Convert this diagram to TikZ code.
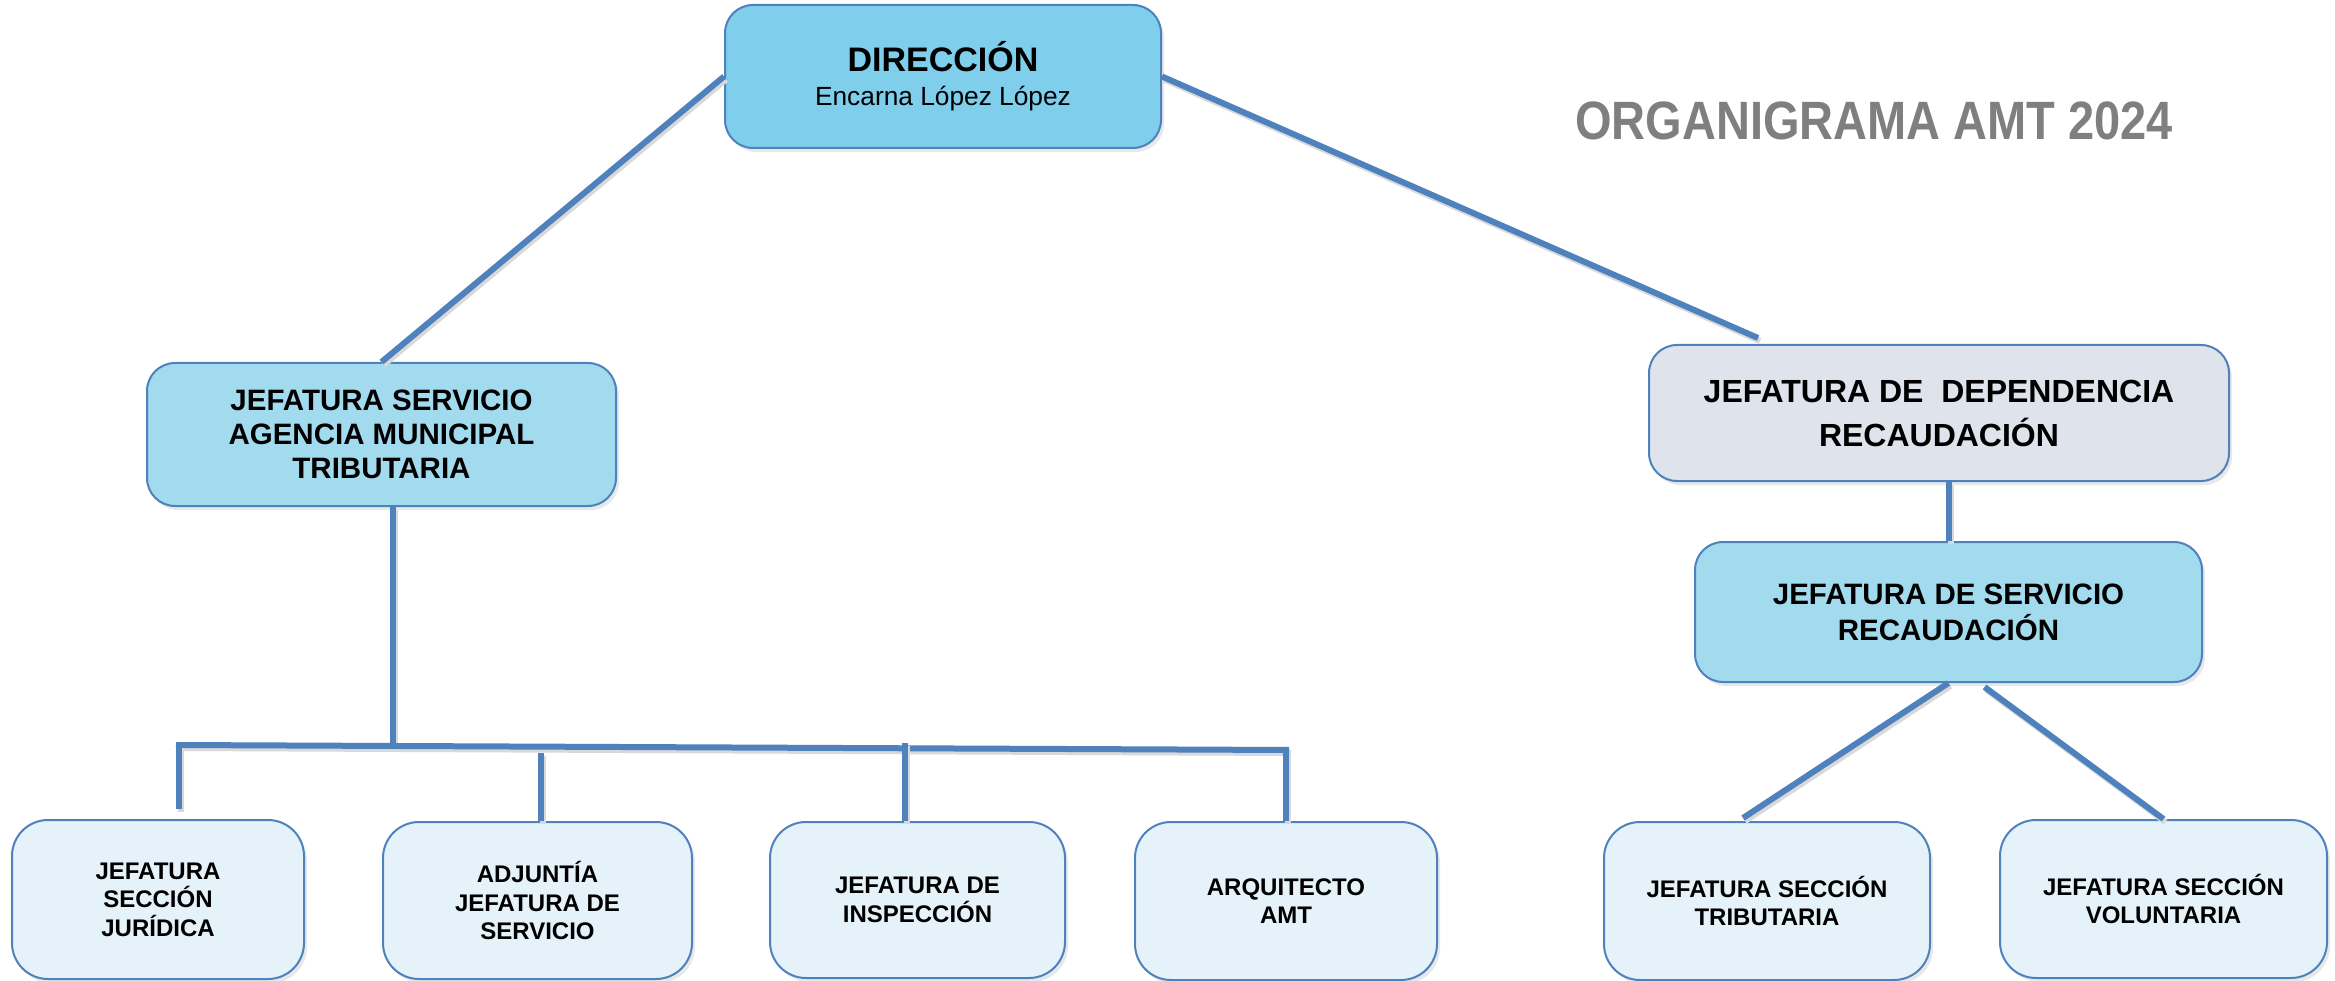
\documentclass[tikz,border=0pt]{standalone}
\usepackage{fontspec}
\setmainfont{Liberation Sans}
\newfontfamily\titlefont[FakeStretch=0.87]{Liberation Sans Bold}
\usetikzlibrary{calc}
\usetikzlibrary{shadows}
\definecolor{linea}{HTML}{4F81BD}
\definecolor{azul}{HTML}{7ECEEC}
\definecolor{celeste}{HTML}{A2DAEE}
\definecolor{gris}{HTML}{DFE4EC}
\definecolor{palido}{HTML}{E5F2F9}
\definecolor{grisletra}{HTML}{7F7F7F}
\tikzset{
	caja/.style={draw=linea, line width=2pt, rounded corners=28pt, inner sep=0pt, align=center, text=black,
		drop shadow={shadow xshift=3pt, shadow yshift=-4pt, opacity=0.18}},
	jefe/.style={caja, fill=celeste, font=\fontsize{29.5}{34}\selectfont\bfseries},
	seccion/.style={caja, fill=palido, rounded corners=36pt, font=\fontsize{24}{28.5}\selectfont\bfseries}
}

\begin{document}
\begin{tikzpicture}[x=1pt, y=-1pt, enlace/.style={draw=linea, line width=6pt,
		preaction={draw=black!15, line width=6pt, transform canvas={shift={(2pt,-3pt)}}}}]
	\useasboundingbox (0,0) rectangle (2335,981);

	% --- direccion ---
	\node[caja, fill=azul, minimum width=436pt, minimum height=143pt, font=\fontsize{26.3}{34}\selectfont] (dir) at (943,76.5)
		{{\fontsize{34}{34}\selectfont\bfseries DIRECCIÓN}\\Encarna López López};
	\node[anchor=base west, inner sep=0pt, text=grisletra, font=\titlefont\fontsize{54}{54}\selectfont] (titulo) at (1575,140)
		{ORGANIGRAMA AMT 2024};

	% --- jefaturas ---
	\node[jefe, minimum width=469pt, minimum height=143pt] (jsa) at (381.5,434.5) {JEFATURA SERVICIO\\AGENCIA MUNICIPAL\\TRIBUTARIA};
	\node[caja, fill=gris, minimum width=580pt, minimum height=136pt, font=\fontsize{32}{44}\selectfont\bfseries] (jdr) at (1939,413)
		{JEFATURA DE\ \ DEPENDENCIA\\RECAUDACIÓN};
	\node[jefe, minimum width=507pt, minimum height=140pt, font=\fontsize{29.5}{36}\selectfont\bfseries] (jsr) at (1948.5,612)
		{JEFATURA DE SERVICIO\\RECAUDACIÓN};

	% --- secciones ---
	\node[seccion, minimum width=292pt, minimum height=159pt] (b1) at (158,899.5) {JEFATURA\\SECCIÓN\\JURÍDICA};
	\node[seccion, minimum width=309pt, minimum height=157pt] (b2) at (537.5,900.5) {ADJUNTÍA\\JEFATURA DE\\SERVICIO};
	\node[seccion, minimum width=295pt, minimum height=156pt] (b3) at (917.5,900) {JEFATURA DE\\INSPECCIÓN};
	\node[seccion, minimum width=302pt, minimum height=158pt] (b4) at (1286,901) {ARQUITECTO\\AMT};
	\node[seccion, minimum width=326pt, minimum height=158pt] (b5) at (1767,901) {JEFATURA SECCIÓN\\TRIBUTARIA};
	\node[seccion, minimum width=327pt, minimum height=158pt] (b6) at (2163.5,899) {JEFATURA SECCIÓN\\VOLUNTARIA};

	% --- lineas ---
	\coordinate (jdrpunta) at (1758,338);
	\draw[enlace] (dir.west) -- (jsa.north);
	\draw[enlace] (dir.east) -- (jdrpunta);
	\draw[enlace] (jdr.south -| jsr.north) -- (jsr.north);
	\draw[enlace] (jsr.south) -- ($(b5.north)+(-24,-3)$);
	\draw[enlace] ($(jsr.south)+(36,4)$) -- (b6.north);

	\coordinate (tronco) at (393,745);
	\coordinate (barI) at (176,745);
	\coordinate (barD) at (1289,750);
	\coordinate (c1) at (179,745);
	\coordinate (c2) at (541,753);
	\coordinate (c3) at (905,743);
	\coordinate (c4) at (1286,752);
	\draw[enlace] (tronco |- jsa.south) -- (tronco);
	\draw[enlace] (barI) -- (barD);
	\draw[enlace, shorten >=10pt] (c1) -- (c1 |- b1.north);
	\draw[enlace] (c2) -- (c2 |- b2.north);
	\draw[enlace] (c3) -- (c3 |- b3.north);
	\draw[enlace] (c4) -- (c4 |- b4.north);

\end{tikzpicture}
\end{document}
